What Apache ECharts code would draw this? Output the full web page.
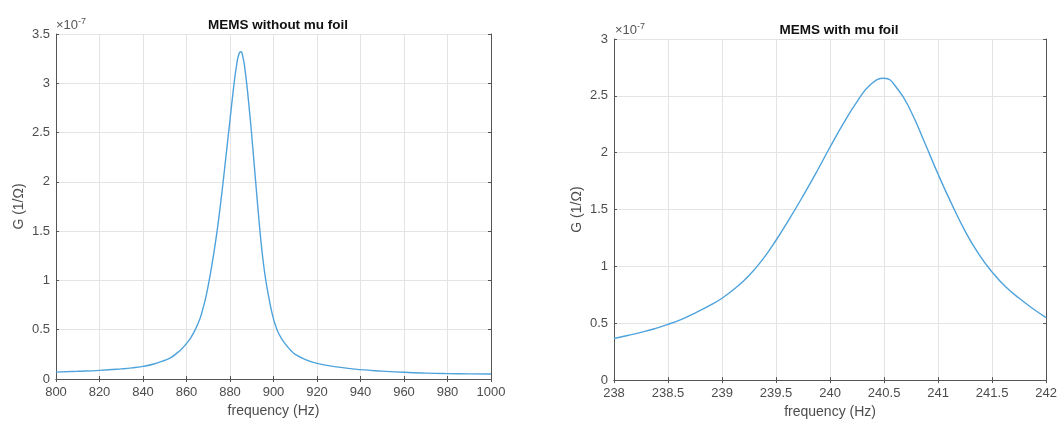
<!DOCTYPE html>
<html>
<head>
<meta charset="utf-8">
<script src="https://cdn.jsdelivr.net/npm/echarts@6/dist/echarts.min.js"></script>
<style>
  html, body { margin: 0; padding: 0; background: #fff; }
  #main { width: 1060px; height: 424px; }
</style>
</head>
<body>
<div id="main"></div>
<script>
// left panel: without mu foil (G in units of 1e-7 S)
var freqNoFoil = [800, 810, 820, 830, 835, 840, 845, 850, 853, 856, 858, 860, 862, 864, 866, 867, 868, 869, 870, 871, 872, 873, 874, 875, 876, 877, 878, 879, 880, 881, 882, 883, 884, 885, 886, 887, 888, 889, 890, 891, 892, 893, 894, 895, 896, 897, 898, 899, 900, 901, 902, 904, 906, 908, 910, 915, 920, 930, 940, 950, 960, 970, 980, 990, 1000];
var gNoFoil = [0.07, 0.078, 0.088, 0.103, 0.113, 0.128, 0.152, 0.19, 0.22, 0.27, 0.31, 0.36, 0.42, 0.5, 0.6, 0.67, 0.75, 0.84, 0.95, 1.07, 1.2, 1.34, 1.49, 1.66, 1.84, 2.03, 2.23, 2.43, 2.63, 2.83, 3.02, 3.18, 3.29, 3.32, 3.26, 3.12, 2.93, 2.71, 2.47, 2.21, 1.95, 1.69, 1.45, 1.24, 1.07, 0.93, 0.81, 0.7, 0.61, 0.54, 0.48, 0.4, 0.34, 0.29, 0.25, 0.195, 0.158, 0.12, 0.095, 0.08, 0.068, 0.06, 0.055, 0.052, 0.05];

// right panel: with mu foil
var freqFoil = [238, 238.125, 238.25, 238.375, 238.5, 238.625, 238.75, 238.875, 239, 239.125, 239.25, 239.375, 239.5, 239.625, 239.75, 239.875, 240, 240.125, 240.25, 240.375, 240.5, 240.625, 240.75, 240.875, 241, 241.125, 241.25, 241.375, 241.5, 241.625, 241.75, 241.875, 242];
var gFoil = [0.366, 0.392, 0.42, 0.452, 0.49, 0.535, 0.59, 0.65, 0.72, 0.81, 0.92, 1.06, 1.23, 1.42, 1.62, 1.83, 2.05, 2.26, 2.45, 2.6, 2.655, 2.56, 2.36, 2.09, 1.81, 1.55, 1.31, 1.11, 0.95, 0.82, 0.72, 0.63, 0.55];

var titles = ['MEMS without mu foil', 'MEMS with mu foil'];
var xTicks1 = { min: 800, max: 1000, interval: 20 };
var yTicks1 = { min: 0, max: 3.5, interval: 0.5 };
var xTicks2 = { min: 238, max: 242, interval: 0.5 };
var yTicks2 = { min: 0, max: 3, interval: 0.5 };

function pairs(xs, ys) {
  return xs.map(function (x, i) { return [x, ys[i]]; });
}

var font = 'Liberation Sans, Arial, sans-serif';
var boxColor = '#555555';
var labelColor = '#4d4d4d';
var plain = function (v) { return String(v); };

function mainX(idx, t, name) {
  return {
    type: 'value', gridIndex: idx, min: t.min, max: t.max, interval: t.interval,
    name: name, nameLocation: 'middle', nameGap: 24,
    nameTextStyle: { fontFamily: font, fontSize: 14, color: labelColor },
    axisLine: { show: true, onZero: false, lineStyle: { color: boxColor, width: 1 } },
    axisTick: { show: true, inside: true, length: 3, lineStyle: { color: boxColor } },
    axisLabel: { fontFamily: font, fontSize: 13, color: labelColor, margin: 7, formatter: plain },
    splitLine: { show: true, lineStyle: { color: '#e4e4e4', width: 1 } }
  };
}
function mainY(idx, t, name) {
  return {
    type: 'value', gridIndex: idx, min: t.min, max: t.max, interval: t.interval,
    name: name, nameLocation: 'middle', nameGap: 30,
    nameTextStyle: { fontFamily: font, fontSize: 14, color: labelColor },
    axisLine: { show: true, lineStyle: { color: boxColor, width: 1 } },
    axisTick: { show: true, inside: true, length: 3, lineStyle: { color: boxColor } },
    axisLabel: { fontFamily: font, fontSize: 13, color: labelColor, margin: 6, formatter: plain },
    splitLine: { show: true, lineStyle: { color: '#e4e4e4', width: 1 } }
  };
}
function boxX(idx, t) {
  return {
    type: 'value', gridIndex: idx, position: 'top', min: t.min, max: t.max, interval: t.interval,
    axisLine: { show: true, lineStyle: { color: boxColor, width: 1 } },
    axisTick: { show: true, inside: true, length: 3, lineStyle: { color: boxColor } },
    axisLabel: { show: false }, splitLine: { show: false }
  };
}
function boxY(idx, t) {
  return {
    type: 'value', gridIndex: idx, position: 'right', min: t.min, max: t.max, interval: t.interval,
    axisLine: { show: true, lineStyle: { color: boxColor, width: 1 } },
    axisTick: { show: true, inside: true, length: 3, lineStyle: { color: boxColor } },
    axisLabel: { show: false }, splitLine: { show: false }
  };
}

var expRich = {
  a: { fontFamily: font, fontSize: 13, fill: '#555' },
  b: { fontFamily: font, fontSize: 9, fill: '#555', verticalAlign: 'top', padding: [0, 0, 7, 0] }
};

var chart = echarts.init(document.getElementById('main'));
chart.setOption({
  backgroundColor: '#ffffff',
  animation: false,
  title: [
    { text: titles[0], left: 273, top: 13, textAlign: 'center',
      textStyle: { fontFamily: font, fontSize: 13.5, fontWeight: 'bold', color: '#111' } },
    { text: titles[1], left: 834, top: 18, textAlign: 'center',
      textStyle: { fontFamily: font, fontSize: 13.5, fontWeight: 'bold', color: '#111' } }
  ],
  grid: [
    { left: 56, top: 34, width: 435, height: 345 },
    { left: 614, top: 39, width: 433, height: 342 }
  ],
  xAxis: [
    mainX(0, xTicks1, 'frequency (Hz)'),
    boxX(0, xTicks1),
    mainX(1, xTicks2, 'frequency (Hz)'),
    boxX(1, xTicks2)
  ],
  yAxis: [
    mainY(0, yTicks1, 'G (1/\u03A9)'),
    boxY(0, yTicks1),
    mainY(1, yTicks2, 'G (1/\u03A9)'),
    boxY(1, yTicks2)
  ],
  graphic: [
    { type: 'text', left: 56, top: 17, style: { text: '{a|\u00D710}{b|-7}', rich: expRich } },
    { type: 'text', left: 615, top: 22, style: { text: '{a|\u00D710}{b|-7}', rich: expRich } }
  ],
  series: [
    { type: 'line', xAxisIndex: 0, yAxisIndex: 0, data: pairs(freqNoFoil, gNoFoil),
      smooth: 0.5, showSymbol: false, lineStyle: { color: '#4fa3dc', width: 1.4 } },
    { type: 'line', xAxisIndex: 2, yAxisIndex: 2, data: pairs(freqFoil, gFoil),
      smooth: 0.5, showSymbol: false, lineStyle: { color: '#4fa3dc', width: 1.4 } }
  ]
});
</script>
</body>
</html>
